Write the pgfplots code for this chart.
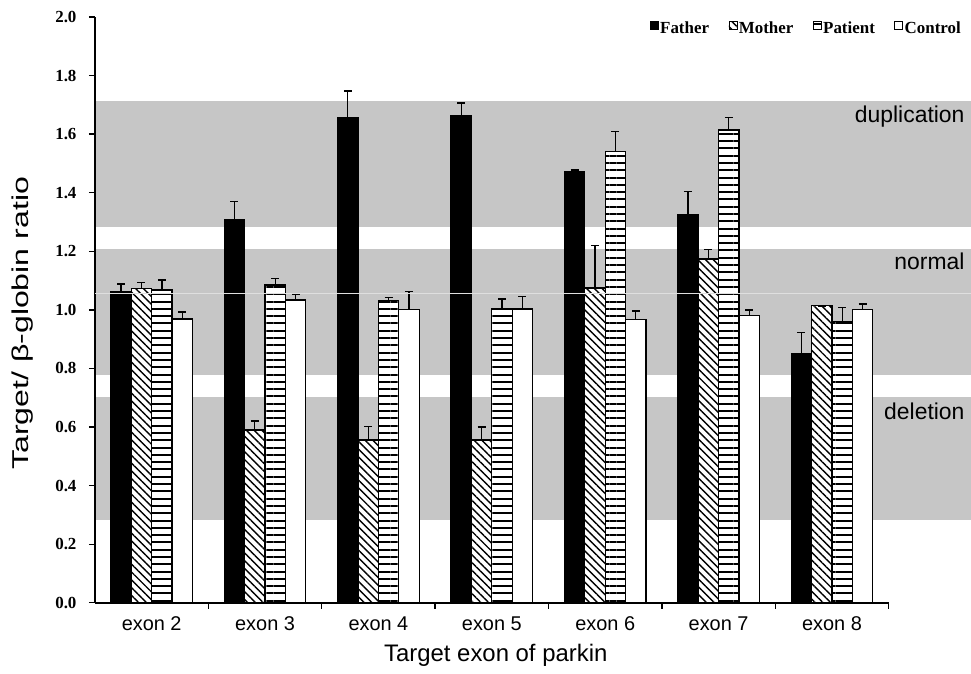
\documentclass[border=0pt]{standalone}
\usepackage{fontspec}
\setmainfont{Liberation Sans}
\newfontfamily\tnr{Liberation Serif}
\usepackage{pgfplots}
\pgfplotsset{compat=1.18}
\usetikzlibrary{patterns.meta}
\definecolor{band}{RGB}{198,198,198}
\begin{document}
\begin{tikzpicture}
\begin{axis}[
  set layers,
  scale only axis, width=794bp, height=586bp,
  xmin=-0.5, xmax=6.5, ymin=0, ymax=2,
  clip=false,
  axis x line*=bottom, axis y line*=left,
  axis line style={-, line width=1.6bp, black},
  ybar=0pt, bar width=0.18,
  ytick={0,0.2,0.4,0.6,0.8,1.0,1.2,1.4,1.6,1.8,2.0},
  yticklabel style={font=\tnr\bfseries\fontsize{17}{17}\selectfont, xshift=-9bp},
  /pgf/number format/.cd, fixed, fixed zerofill, precision=1, assume math mode=true,
  /pgfplots/.cd,
  tick align=outside, major tick length=6bp, minor tick length=6bp,
  tick style={black, line width=1.4bp},
  xtick={0,1,2,3,4,5,6},
  xticklabels={exon 2,exon 3,exon 4,exon 5,exon 6,exon 7,exon 8},
  major x tick style={draw=none},
  minor xtick={0.5,1.5,2.5,3.5,4.5,5.5,6.5},
  xticklabel style={font=\fontsize{20}{20}\selectfont, yshift=-4bp},
  xlabel={Target exon of parkin},
  xlabel style={font=\fontsize{24}{24}\selectfont, at={(rel axis cs:0.505,-0.089)}, anchor=center},
  ylabel={\scalebox{1.4}[1]{Target/ β-globin ratio}},
  ylabel style={font=\fontsize{23}{23}\selectfont, at={(rel axis cs:-0.091,0.477)}, anchor=center},
  error bars/y dir=plus, error bars/y explicit,
  error bars/error bar style={line width=1.3bp, black},
  error bars/error mark options={rotate=90, black, line width=1.5bp, mark size=4bp},
  legend style={at={(rel axis cs:1.093,0.995)}, anchor=north east, draw=none, fill=none,
    inner sep=0pt, font=\tnr\bfseries\fontsize{17}{17}\selectfont,
    nodes={inner sep=1.5bp}},
  legend columns=4,
  legend cell align=left,
  /tikz/every even column/.append style={column sep=18bp},
  myleg/.style={legend image code/.code={\draw[##1, line width=0.8bp] (0bp,-1bp) rectangle (8bp,7bp);}},
]
\begin{pgfonlayer}{axis background}
\fill[band] (axis cs:-0.5,1.284) rectangle (axis cs:7.2228,1.712);
\fill[band] (axis cs:-0.5,0.779) rectangle (axis cs:7.2228,1.209);
\fill[band] (axis cs:-0.5,0.283) rectangle (axis cs:7.2228,0.702);
\end{pgfonlayer}
\path (axis cs:-1.3375,-0.2423) rectangle (axis cs:7.2228,2.058);

\addplot[myleg, fill=black, draw=black, line width=1.2bp] coordinates {
 (0,1.063) +- (0,0.025)
 (1,1.307) +- (0,0.063)
 (2,1.656) +- (0,0.091)
 (3,1.665) +- (0,0.042)
 (4,1.472) +- (0,0.005)
 (5,1.327) +- (0,0.077)
 (6,0.852) +- (0,0.071)
};
\addlegendentry{Father}
\addplot[myleg, fill=white, draw=black, line width=1.2bp,
  postaction={pattern={Lines[angle=-45,distance=5.5bp,line width=1.4bp]}, pattern color=black}] coordinates {
 (0,1.074) +- (0,0.020)
 (1,0.590) +- (0,0.030)
 (2,0.556) +- (0,0.046)
 (3,0.556) +- (0,0.045)
 (4,1.075) +- (0,0.145)
 (5,1.174) +- (0,0.033)
 (6,1.014) +- (0,0.0)
};
\addlegendentry{Mother}
\addplot[myleg, fill=white, draw=black, line width=1.2bp,
  postaction={pattern={Lines[angle=0,distance=7.3bp,line width=2bp]}, pattern color=black}] coordinates {
 (0,1.068) +- (0,0.034)
 (1,1.085) +- (0,0.023)
 (2,1.031) +- (0,0.012)
 (3,1.003) +- (0,0.034)
 (4,1.540) +- (0,0.069)
 (5,1.614) +- (0,0.043)
 (6,0.961) +- (0,0.047)
};
\addlegendentry{Patient}
\addplot[myleg, fill=white, draw=black, line width=1.2bp] coordinates {
 (0,0.969) +- (0,0.023)
 (1,1.034) +- (0,0.021)
 (2,1.002) +- (0,0.061)
 (3,1.003) +- (0,0.042)
 (4,0.966) +- (0,0.031)
 (5,0.980) +- (0,0.020)
 (6,1.000) +- (0,0.020)
};
\addlegendentry{Control}

\begin{pgfonlayer}{axis foreground}
\draw[gray!25, line width=0.7bp] (axis cs:-0.5,1.056) -- (axis cs:7.2228,1.056);
\end{pgfonlayer}
\node[anchor=east, font=\fontsize{23}{23}\selectfont, inner sep=0pt] at (axis cs:7.17,1.66) {duplication};
\node[anchor=east, font=\fontsize{23}{23}\selectfont, inner sep=0pt] at (axis cs:7.17,1.165) {normal};
\node[anchor=east, font=\fontsize{23}{23}\selectfont, inner sep=0pt] at (axis cs:7.17,0.653) {deletion};
\end{axis}
\end{tikzpicture}
\end{document}
